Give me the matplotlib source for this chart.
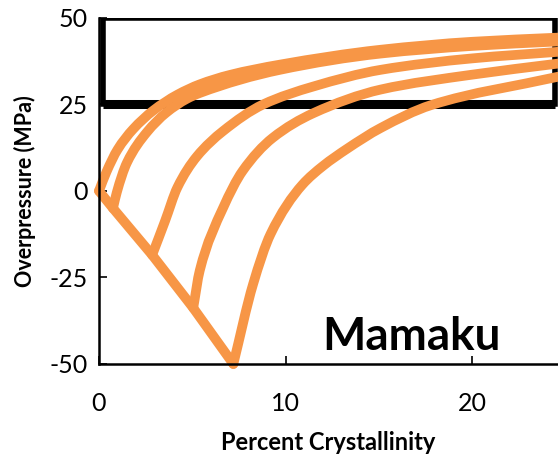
import matplotlib.pyplot as plt
from matplotlib.path import Path
from matplotlib.patches import PathPatch
import numpy as np

plt.rcParams['font.family'] = ['Lato', 'DejaVu Sans']
plt.rcParams['axes.unicode_minus'] = False

# decompression path (branch points)
path_x = [0, 0.75, 2.85, 5.05, 7.2]
path_y = [0, -5, -18.5, -33.8, -50]

# crystallisation curves from each branch point
curve_a_x = [0, 0.4, 1.0, 1.82, 2.9, 4.2, 5.4, 7.0, 9.7, 15.1, 20, 24.6]
curve_a_y = [0, 5.5, 12, 17.8, 23.2, 27.8, 30.8, 33.5, 36.5, 40.8, 43.1, 44.3]

curve_b_x = [0.75, 0.95, 1.5, 2.57, 3.6, 4.7, 5.4, 9.7, 15.1, 20, 24.6]
curve_b_y = [-5, -0.5, 8.2, 17.0, 22.6, 26.6, 28.3, 35, 39.7, 41.9, 43.2]

curve_c_x = [2.85, 3.54, 4.2, 5.25, 6.65, 8.8, 11.5, 15.1, 20, 24.6]
curve_c_y = [-18.5, -8.7, 1, 10, 17.3, 25, 30.2, 35, 38.3, 40.2]

curve_d_x = [5.05, 5.4, 6.65, 7.7, 9.3, 11.5, 15.1, 20, 24.6]
curve_d_y = [-33.8, -23, -4.9, 5.8, 15.3, 22.5, 29.3, 33.6, 36.8]

curve_e_x = [7.2, 8.26, 9.2, 10.9, 12.0, 13.3, 15.1, 17.8, 24.6]
curve_e_y = [-50, -26.9, -12.4, 1.8, 7.2, 12.2, 18.2, 24.8, 33]

# box around the 25-50 MPa range
box_x0, box_x1 = 0.2, 24.45
box_y0, box_y1 = 25, 50

orange = '#F79646'


def smooth_path(xs, ys):      # smoothed line (monotone cubic) drawn as bezier path
    x = np.asarray(xs, float)
    y = np.asarray(ys, float)
    h = np.diff(x)
    d = np.diff(y) / h
    m = np.empty_like(y)
    m[0], m[-1] = d[0], d[-1]
    for i in range(1, len(x) - 1):
        if d[i - 1] * d[i] <= 0:
            m[i] = 0
        else:
            w1 = 2 * h[i] + h[i - 1]
            w2 = h[i] + 2 * h[i - 1]
            m[i] = (w1 + w2) / (w1 / d[i - 1] + w2 / d[i])
    verts = [(x[0], y[0])]
    codes = [Path.MOVETO]
    for i in range(len(x) - 1):
        verts += [(x[i] + h[i] / 3, y[i] + m[i] * h[i] / 3),
                  (x[i + 1] - h[i] / 3, y[i + 1] - m[i + 1] * h[i] / 3),
                  (x[i + 1], y[i + 1])]
        codes += [Path.CURVE4] * 3
    return Path(verts, codes)


fig = plt.figure(figsize=(5.58, 4.59), dpi=100)
ax = fig.add_axes([0.1774, 0.207, 0.8226, 0.754])

ax.plot([box_x0, box_x0, box_x1, box_x1], [box_y0, box_y1, box_y1, box_y0],
        color='black', lw=4, solid_joinstyle='miter', zorder=1)
ax.plot([box_x0, box_x1], [box_y0, box_y0], color='black', lw=6.5,
        solid_capstyle='butt', zorder=1)

ax.plot(path_x, path_y, color=orange, lw=7, solid_joinstyle='round',
        solid_capstyle='round', zorder=2, clip_on=False)

for cx, cy in [(curve_a_x, curve_a_y), (curve_b_x, curve_b_y), (curve_c_x, curve_c_y),
               (curve_d_x, curve_d_y), (curve_e_x, curve_e_y)]:
    ax.add_patch(PathPatch(smooth_path(cx, cy), facecolor='none', edgecolor=orange,
                           lw=7, capstyle='round', joinstyle='round', zorder=2,
                           clip_on=False))

ax.set_xlim(0, 24.6)
ax.set_ylim(-50, 50)
ax.set_xticks([0, 10, 20])
ax.set_yticks([-50, -25, 0, 25, 50])
ax.spines['top'].set_visible(False)
ax.spines['right'].set_visible(False)
for s in ['left', 'bottom']:
    ax.spines[s].set_linewidth(1.8)
ax.tick_params(direction='in', length=6, width=1.2, labelsize=18)
ax.tick_params(axis='y', pad=8)
ax.tick_params(axis='x', pad=20)

ax.set_xlabel('Percent Crystallinity', fontsize=17, fontweight='bold', labelpad=12)
ax.set_ylabel('Overpressure (MPa)', fontsize=15.5, fontweight='bold', labelpad=10)

ax.text(0.68, 0.078, 'Mamaku', transform=ax.transAxes, fontsize=33,
        fontweight='bold', ha='center', va='center')

fig.savefig('out.png', dpi=100)
